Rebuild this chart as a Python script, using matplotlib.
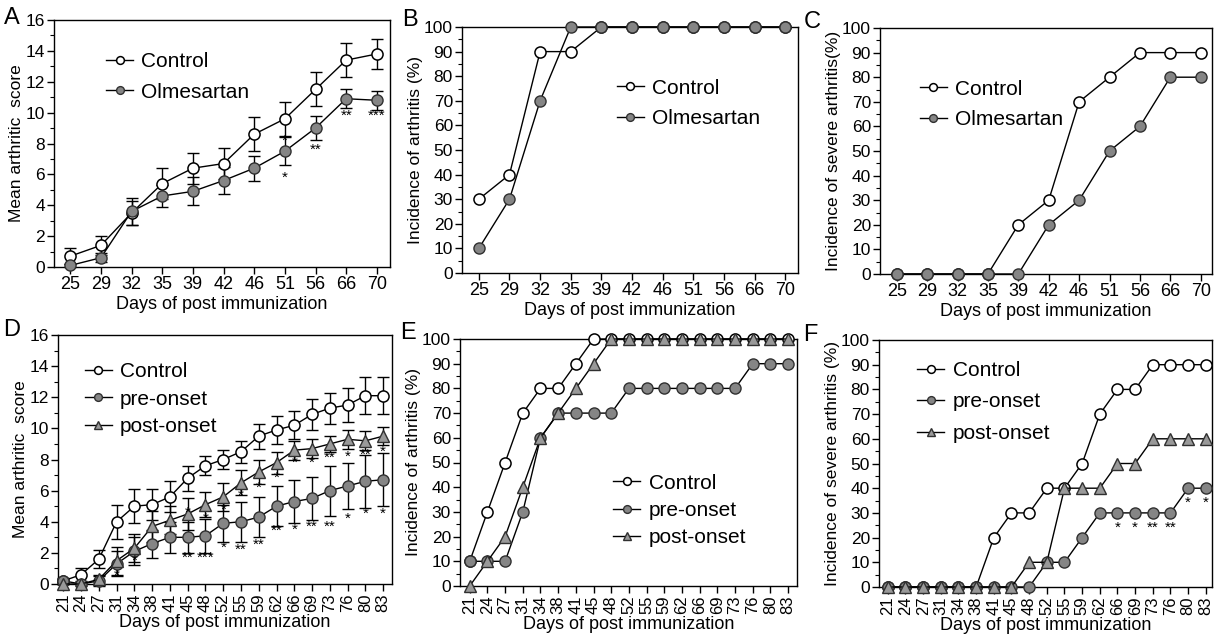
import matplotlib
matplotlib.use('Agg')
import matplotlib.pyplot as plt
from matplotlib.ticker import MultipleLocator

plt.rcParams['font.family'] = ['Liberation Sans', 'DejaVu Sans']

# ---- data: top row (days 25-70) ----
days_top = ['25', '29', '32', '35', '39', '42', '46', '51', '56', '66', '70']

a_control = [0.7, 1.4, 3.5, 5.4, 6.4, 6.7, 8.6, 9.6, 11.5, 13.4, 13.8]
a_control_err = [0.5, 0.6, 0.8, 1.0, 1.0, 1.0, 1.1, 1.1, 1.1, 1.1, 1.0]
a_olme = [0.1, 0.6, 3.6, 4.6, 4.9, 5.6, 6.4, 7.5, 9.0, 10.9, 10.8]
a_olme_err = [0.1, 0.3, 0.9, 0.7, 0.9, 0.9, 0.8, 0.9, 0.8, 0.6, 0.6]
a_stars = [(7, 8.2, '*'), (7, 5.8, '*'), (8, 7.6, '**'), (9, 9.8, '**'), (10, 9.8, '***')]

b_control = [30, 40, 90, 90, 100, 100, 100, 100, 100, 100, 100]
b_olme = [10, 30, 70, 100, 100, 100, 100, 100, 100, 100, 100]

c_control = [0, 0, 0, 0, 20, 30, 70, 80, 90, 90, 90]
c_olme = [0, 0, 0, 0, 0, 20, 30, 50, 60, 80, 80]

# ---- data: bottom row (days 21-83) ----
days_bot = ['21', '24', '27', '31', '34', '38', '41', '45', '48', '52',
            '55', '59', '62', '66', '69', '73', '76', '80', '83']

d_control = [0.2, 0.6, 1.6, 4.0, 5.0, 5.1, 5.6, 6.8, 7.6, 8.0,
             8.5, 9.5, 9.9, 10.2, 10.9, 11.3, 11.5, 12.1, 12.1]
d_control_err = [0.2, 0.4, 0.6, 1.1, 1.1, 1.0, 1.0, 0.8, 0.6, 0.6,
                 0.7, 0.8, 0.9, 0.9, 1.0, 1.0, 1.1, 1.2, 1.2]
d_pre = [0.2, 0.0, 0.2, 1.3, 2.1, 2.6, 3.0, 3.0, 3.1, 3.9,
         4.0, 4.3, 5.0, 5.3, 5.5, 6.0, 6.3, 6.6, 6.7]
d_pre_err = [0.1, 0.1, 0.3, 0.8, 0.9, 0.9, 1.0, 1.0, 1.1, 1.2,
             1.3, 1.3, 1.3, 1.4, 1.4, 1.6, 1.5, 1.7, 1.7]
d_post = [0.0, 0.0, 0.3, 1.5, 2.3, 3.7, 4.1, 4.5, 5.1, 5.6,
          6.5, 7.2, 7.8, 8.6, 8.7, 9.0, 9.3, 9.2, 9.5]
d_post_err = [0.0, 0.0, 0.3, 0.9, 0.9, 1.0, 0.9, 1.0, 0.8, 0.9,
              0.8, 0.8, 0.7, 0.6, 0.6, 0.5, 0.6, 0.6, 0.6]
d_stars = [(3, 0.5, '*'), (4, 1.5, '*'), (7, 1.7, '**'), (8, 1.7, '***'), (9, 2.3, '*'),
           (10, 2.2, '**'), (11, 2.5, '**'), (12, 3.4, '**'), (13, 3.5, '*'), (14, 3.7, '**'),
           (15, 3.7, '**'), (16, 4.2, '*'), (17, 4.5, '*'), (18, 4.5, '*'),
           (7, 4.6, '*'), (8, 4.2, '*'), (9, 4.8, '*'), (10, 5.7, '*'), (11, 6.2, '*'),
           (12, 6.8, '*'), (13, 7.8, '*'), (14, 7.8, '*'), (15, 8.1, '**'), (16, 8.2, '*'),
           (17, 8.3, '**'), (18, 8.5, '*')]

e_control = [10, 30, 50, 70, 80, 80, 90, 100, 100, 100,
             100, 100, 100, 100, 100, 100, 100, 100, 100]
e_pre = [10, 10, 10, 30, 60, 70, 70, 70, 70, 80,
         80, 80, 80, 80, 80, 80, 90, 90, 90]
e_post = [0, 10, 20, 40, 60, 70, 80, 90, 100, 100,
          100, 100, 100, 100, 100, 100, 100, 100, 100]

f_control = [0, 0, 0, 0, 0, 0, 20, 30, 30, 40,
             40, 50, 70, 80, 80, 90, 90, 90, 90]
f_pre = [0, 0, 0, 0, 0, 0, 0, 0, 0, 10,
         10, 20, 30, 30, 30, 30, 30, 40, 40]
f_post = [0, 0, 0, 0, 0, 0, 0, 0, 10, 10,
          40, 40, 40, 50, 50, 60, 60, 60, 60]
f_stars = [(13, 24, '*'), (14, 24, '*'), (15, 24, '**'), (16, 24, '**'), (17, 34, '*'), (18, 34, '*')]

W, H = 1214, 636
fig = plt.figure(figsize=(W / 100, H / 100), dpi=100)

OPEN = dict(marker='o', mfc='white', mec='black', ms=8, mew=1.1, color='black', lw=1)
GREY = dict(marker='o', mfc='#858585', mec='#303030', ms=8, mew=1.0, color='black', lw=1)
TRI = dict(marker='^', mfc='#999999', mec='#303030', ms=8, mew=1.0, color='black', lw=1)


def make_ax(box, xsize=13):
    l, t, r, b = box
    ax = fig.add_axes([l / W, (H - b) / H, (r - l) / W, (b - t) / H])
    for s in ax.spines.values():
        s.set_linewidth(1.0)
    ax.tick_params(direction='out', length=5, width=1, labelsize=12.5, pad=1.5)
    ax.tick_params(axis='x', labelsize=xsize)
    ax.tick_params(which='minor', direction='out', length=3, width=0.8)
    return ax


def series(ax, y, err, style, label):
    x = range(len(y))
    if err is not None:
        ax.errorbar(x, y, yerr=err, fmt='none', ecolor='black', elinewidth=1,
                    capsize=4, capthick=1, clip_on=False, zorder=2)
    ax.plot(x, y, label=label, clip_on=False, zorder=3, **style)


def finish(ax, days, xlim, ylim, major, minor, ylabel, letter, lpos, rot=0):
    ax.set_xticks(range(len(days)))
    ax.set_xticklabels(days, rotation=rot)
    ax.set_xlim(*xlim)
    ax.set_ylim(*ylim)
    ax.yaxis.set_major_locator(MultipleLocator(major))
    ax.yaxis.set_minor_locator(MultipleLocator(minor))
    ax.set_xlabel('Days of post immunization', fontsize=13, labelpad=2)
    ax.set_ylabel(ylabel, fontsize=12.5, labelpad=1)
    ax.text(lpos[0] / W, 1 - lpos[1] / H, letter, transform=fig.transFigure,
            fontsize=17, ha='center', va='center')


def legend(ax, xy, spacing):
    ax.legend(loc='upper left', bbox_to_anchor=xy, frameon=False, fontsize=15,
              handlelength=1.3, handletextpad=0.4, borderpad=0, borderaxespad=0,
              labelspacing=spacing, markerscale=0.7)


def stars(ax, items):
    for i, y, s in items:
        ax.text(i, y, s, fontsize=11, ha='center', va='center', zorder=4)


# A
ax = make_ax((54, 20, 390, 267))
series(ax, a_control, a_control_err, OPEN, 'Control')
series(ax, a_olme, a_olme_err, GREY, 'Olmesartan')
stars(ax, a_stars)
finish(ax, days_top, (-0.53, 10.43), (0, 16), 2, 1, 'Mean arthritic  score', 'A', (12, 18))
legend(ax, (0.155, 0.87), 0.55)

# B
ax = make_ax((462, 27, 798, 273))
series(ax, b_control, None, OPEN, 'Control')
series(ax, b_olme, None, GREY, 'Olmesartan')
finish(ax, days_top, (-0.55, 10.42), (0, 100), 10, 5, 'Incidence of arthritis (%)', 'B', (410, 20))
legend(ax, (0.46, 0.79), 0.55)

# C
ax = make_ax((880, 28, 1212, 274))
series(ax, c_control, None, OPEN, 'Control')
series(ax, c_olme, None, GREY, 'Olmesartan')
finish(ax, days_top, (-0.55, 10.37), (0, 100), 10, 5, 'Incidence of severe arthritis(%)', 'C', (812, 22))
legend(ax, (0.12, 0.79), 0.55)

# D
ax = make_ax((58, 335, 392, 584), xsize=12)
series(ax, d_control, d_control_err, OPEN, 'Control')
series(ax, d_pre, d_pre_err, GREY, 'pre-onset')
series(ax, d_post, d_post_err, TRI, 'post-onset')
stars(ax, d_stars)
finish(ax, days_bot, (-0.3, 18.5), (0, 16), 2, 1, 'Mean arthritic  score', 'D', (12, 330), rot=90)
legend(ax, (0.08, 0.89), 0.4)

# E
ax = make_ax((460, 339, 797, 586), xsize=12)
series(ax, e_control, None, OPEN, 'Control')
series(ax, e_pre, None, GREY, 'pre-onset')
series(ax, e_post, None, TRI, 'post-onset')
finish(ax, days_bot, (-0.55, 18.5), (0, 100), 10, 5, 'Incidence of arthritis (%)', 'E', (408, 333), rot=90)
legend(ax, (0.455, 0.455), 0.4)

# F
ax = make_ax((879, 340, 1212, 587), xsize=12)
series(ax, f_control, None, OPEN, 'Control')
series(ax, f_pre, None, GREY, 'pre-onset')
series(ax, f_post, None, TRI, 'post-onset')
stars(ax, f_stars)
finish(ax, days_bot, (-0.5, 18.35), (0, 100), 10, 5, 'Incidence of severe arthritis (%)', 'F', (810, 335), rot=90)
legend(ax, (0.115, 0.915), 0.6)

fig.savefig('out.png', dpi=100)
